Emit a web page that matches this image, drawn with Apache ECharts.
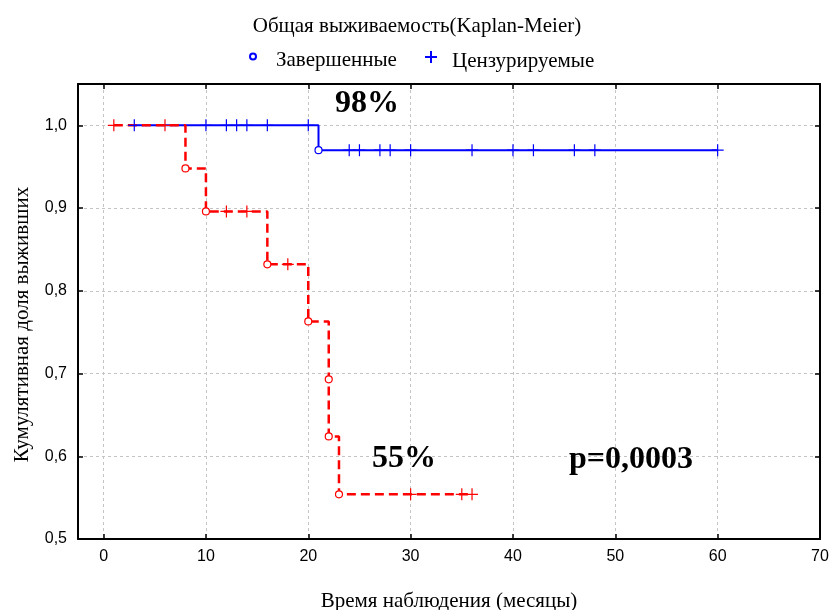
<!DOCTYPE html>
<html>
<head>
<meta charset="utf-8">
<script src="https://cdn.jsdelivr.net/npm/echarts@6/dist/echarts.min.js"></script>
<style>html,body{margin:0;padding:0;background:#fff}#chart{width:834px;height:610px}</style>
</head>
<body>
<div id="chart"></div>
<script>
// ---- data ----
const xTickValues = [0, 10, 20, 30, 40, 50, 60, 70];
const yTickValues = [0.5, 0.6, 0.7, 0.8, 0.9, 1.0];

// group 1 (blue) Kaplan-Meier step curve
const blueStepTimes  = [3, 21, 60];
const blueStepValues = [1.0, 0.97, 0.97];
const blueEventTimes  = [21];
const blueEventValues = [0.97];
const blueCensorTimes  = [3, 10, 12, 13, 14, 16, 20, 24, 25, 27, 28, 30, 36, 40, 42, 46, 48, 60];
const blueCensorValues = [1, 1, 1, 1, 1, 1, 1, 0.97, 0.97, 0.97, 0.97, 0.97, 0.97, 0.97, 0.97, 0.97, 0.97, 0.97];

// group 2 (red) Kaplan-Meier step curve
const redStepTimes  = [1, 8, 10, 16, 20, 22, 22, 23, 36];
const redStepValues = [1.0, 0.948, 0.896, 0.832, 0.763, 0.693, 0.624, 0.554, 0.554];
const redEventTimes  = [8, 10, 16, 20, 22, 22, 23];
const redEventValues = [0.948, 0.896, 0.832, 0.763, 0.693, 0.624, 0.554];
const redCensorTimes  = [1, 6, 12, 14, 18, 30, 35, 36];
const redCensorValues = [1, 1, 0.896, 0.896, 0.832, 0.554, 0.554, 0.554];

const titleText = 'Общая выживаемость(Kaplan-Meier)';
const legendEvent = 'Завершенные';
const legendCensor = 'Цензурируемые';
const xName = 'Время наблюдения (месяцы)';
const yName = 'Кумулятивная доля выживших';
const annot98 = '98%';
const annot55 = '55%';
const annotP = 'p=0,0003';

// ---- build ----
const zip = (a, b) => a.map((v, i) => [v, b[i]]);
const SERIF = '"Liberation Serif", "Times New Roman", serif';
const SANS = '"Liberation Sans", Arial, sans-serif';
const BLUE = '#0000ff', RED = '#ff0000';
const PLUS = 'path://M5,0 L5,10 M0,5 L10,5';

const chart = echarts.init(document.getElementById('chart'), null, {renderer: 'canvas'});

const axisLineStyle = {color: '#000', width: 2};
const tickStyle = {color: '#000', width: 1.5};
const gridLine = {show: true, lineStyle: {color: '#c4c4c4', type: [3, 3], width: 1}};
const legendText = {
  fontFamily: SERIF, fontSize: 21, color: '#000',
  rich: {t: {fontFamily: SERIF, fontSize: 21, color: '#000', padding: [8, 0, 0, 0]}}
};

const option = {
  animation: false,
  backgroundColor: '#fff',
  title: {
    text: titleText, left: 'center', top: 11,
    textStyle: {fontFamily: SERIF, fontSize: 21, fontWeight: 'normal', color: '#000'}
  },
  legend: [
    {
      data: [legendEvent], left: 244, top: 45, itemWidth: 36, itemHeight: 6,
      formatter: '{t|{name}}', textStyle: legendText, selectedMode: false
    },
    {
      data: [legendCensor], left: 419, top: 45, itemWidth: 32, itemHeight: 12,
      formatter: '{t|{name}}', textStyle: legendText, selectedMode: false
    }
  ],
  grid: {left: 78, right: 14, top: 84, bottom: 71, show: false, outerBoundsMode: 'none', containLabel: false},
  xAxis: [
    {
      type: 'value', min: -2.5, max: 70, position: 'bottom',
      name: xName, nameLocation: 'middle', nameGap: 52,
      nameTextStyle: {fontFamily: SERIF, fontSize: 21, color: '#000'},
      axisLine: {show: true, onZero: false, lineStyle: axisLineStyle},
      axisTick: {show: true, inside: true, length: 5, customValues: xTickValues, lineStyle: tickStyle},
      axisLabel: {customValues: xTickValues, fontFamily: SANS, fontSize: 16, color: '#000', margin: 10},
      splitLine: gridLine
    },
    {
      type: 'value', min: -2.5, max: 70, position: 'top',
      axisLine: {show: true, onZero: false, lineStyle: axisLineStyle},
      axisTick: {show: true, inside: true, length: 5, customValues: xTickValues, lineStyle: tickStyle},
      axisLabel: {show: false},
      splitLine: {show: false}
    }
  ],
  yAxis: [
    {
      type: 'value', min: 0.5, max: 1.05, position: 'left',
      name: yName, nameLocation: 'middle', nameGap: 45,
      nameTextStyle: {fontFamily: SERIF, fontSize: 21, color: '#000', padding: [0, 26, 0, 0]},
      axisLine: {show: true, onZero: false, lineStyle: axisLineStyle},
      axisTick: {show: true, inside: true, length: 5, customValues: yTickValues, lineStyle: tickStyle},
      axisLabel: {
        customValues: yTickValues, fontFamily: SANS, fontSize: 16, color: '#000', margin: 11,
        formatter: v => v.toFixed(1).replace('.', ',')
      },
      splitLine: gridLine
    },
    {
      type: 'value', min: 0.5, max: 1.05, position: 'right',
      axisLine: {show: true, onZero: false, lineStyle: axisLineStyle},
      axisTick: {show: true, inside: true, length: 5, customValues: yTickValues, lineStyle: tickStyle},
      axisLabel: {show: false},
      splitLine: {show: false}
    }
  ],
  series: [
    {
      name: 'Группа 1', type: 'line', step: 'end', showSymbol: false, z: 2,
      data: zip(blueStepTimes, blueStepValues),
      lineStyle: {color: BLUE, width: 2}
    },
    {
      name: legendEvent, type: 'scatter', symbol: 'circle', symbolSize: 7, z: 4,
      data: zip(blueEventTimes, blueEventValues),
      itemStyle: {color: '#fff', borderColor: BLUE, borderWidth: 1.2, opacity: 1}
    },
    {
      name: legendCensor, type: 'scatter', symbol: PLUS, symbolSize: 12, z: 4,
      data: zip(blueCensorTimes, blueCensorValues),
      itemStyle: {color: 'transparent', borderColor: BLUE, borderWidth: 1.2, opacity: 1}
    },
    {
      name: 'Группа 2', type: 'line', step: 'end', showSymbol: false, z: 3,
      data: zip(redStepTimes, redStepValues),
      lineStyle: {color: RED, width: 2.5, type: [9, 5]}
    },
    {
      name: legendEvent, type: 'scatter', symbol: 'circle', symbolSize: 7, z: 4,
      data: zip(redEventTimes, redEventValues),
      itemStyle: {color: '#fff', borderColor: RED, borderWidth: 1.2, opacity: 1}
    },
    {
      name: legendCensor, type: 'scatter', symbol: PLUS, symbolSize: 12, z: 4,
      data: zip(redCensorTimes, redCensorValues),
      itemStyle: {color: 'transparent', borderColor: RED, borderWidth: 1.2, opacity: 1}
    }
  ],
  graphic: [
    {type: 'text', left: 335, top: 88, z: 10,
     style: {text: annot98, font: 'bold 32px ' + SERIF, fill: '#000'}},
    {type: 'text', left: 372, top: 443, z: 10,
     style: {text: annot55, font: 'bold 32px ' + SERIF, fill: '#000'}},
    {type: 'text', left: 569, top: 444, z: 10,
     style: {text: annotP, font: 'bold 32px ' + SERIF, fill: '#000'}}
  ]
};
chart.setOption(option);
</script>
</body>
</html>
